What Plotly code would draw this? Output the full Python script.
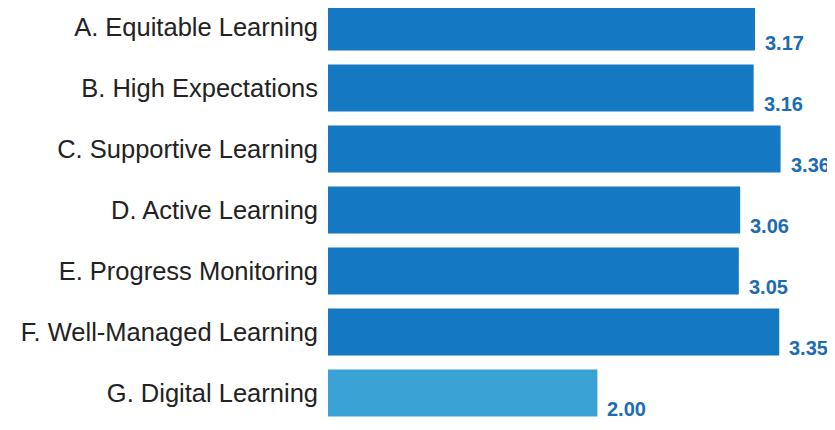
import plotly.graph_objects as go

categories = ["A. Equitable Learning", "B. High Expectations", "C. Supportive Learning",
              "D. Active Learning", "E. Progress Monitoring", "F. Well-Managed Learning",
              "G. Digital Learning"]
values = [3.17, 3.16, 3.36, 3.06, 3.05, 3.35, 2.00]
value_labels = ["3.17", "3.16", "3.36", "3.06", "3.05", "3.35", "2.00"]

bar_colors = ["#1479c2"] * 6 + ["#3ba2d6"]

fig = go.Figure()
fig.add_trace(go.Bar(
    x=values, y=categories, orientation="h",
    marker=dict(color=bar_colors, line=dict(width=0)),
    hoverinfo="skip",
))

for c, v, t in zip(categories, values, value_labels):
    fig.add_annotation(
        x=v, y=c, text=t, showarrow=False,
        xanchor="left", yanchor="middle", xshift=8, yshift=-16,
        font=dict(family="Liberation Sans, Arial, sans-serif", size=20, color="#1b6cb2", weight="bold"),
    )

fig.update_layout(
    width=827, height=414,
    margin=dict(l=320, r=0, t=0, b=0),
    paper_bgcolor="white", plot_bgcolor="white",
    bargap=0.23,
    showlegend=False,
    xaxis=dict(range=[0, 507 / 134.7], visible=False, fixedrange=True),
    yaxis=dict(
        type="category", categoryorder="array", categoryarray=categories,
        range=[6.476, -0.311],
        showgrid=False, zeroline=False, showline=False,
        ticks="", ticklabelstandoff=9,
        tickfont=dict(family="Liberation Sans, Arial, sans-serif", size=25.5, color="#222222"),
    ),
)

fig.write_html("out.html")
